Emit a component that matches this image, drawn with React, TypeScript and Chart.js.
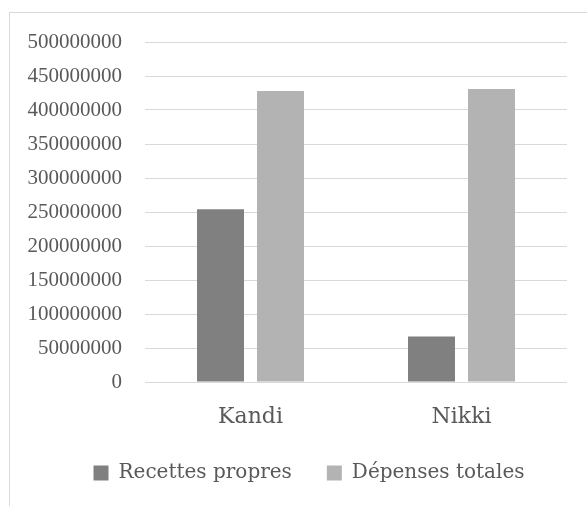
import React, { useEffect, useRef } from "react";
import { Chart, registerables } from "chart.js";

Chart.register(...registerables);

const categories = ["Kandi", "Nikki"];
const seriesNames = ["Recettes propres", "Dépenses totales"];
const recettesPropres = [254000000, 67000000];
const depensesTotales = [428000000, 431000000];
const yMin = 0;
const yMax = 500000000;
const yStep = 50000000;

const TEXT = "#595959";
const GRID = "#d9d9d9";

const legendShift = {
  id: "legendShift",
  afterLayout(chart: any) {
    if (chart.legend) {
      chart.legend.left = 51;
    }
  },
};

export default function App() {
  const ref = useRef<HTMLCanvasElement | null>(null);

  useEffect(() => {
    if (!ref.current) return;
    const chart = new Chart(ref.current, {
      type: "bar",
      data: {
        labels: categories,
        datasets: [
          {
            label: seriesNames[0],
            data: recettesPropres,
            backgroundColor: "#808080",
            borderWidth: 0,
            categoryPercentage: 0.5687,
            barPercentage: 0.783,
          },
          {
            label: seriesNames[1],
            data: depensesTotales,
            backgroundColor: "#b3b3b3",
            borderWidth: 0,
            categoryPercentage: 0.5687,
            barPercentage: 0.783,
          },
        ],
      },
      plugins: [legendShift],
      options: {
        responsive: false,
        animation: false,
        layout: { padding: { left: 0, right: 20, top: 42, bottom: 13 } },
        plugins: {
          tooltip: { enabled: false },
          legend: {
            position: "bottom",
            labels: {
              boxWidth: 15,
              boxHeight: 15,
              padding: 35,
              color: TEXT,
              font: { family: "DejaVu Serif", size: 20 },
            },
          },
        },
        scales: {
          x: {
            grid: { display: false, drawTicks: false },
            border: { display: false },
            ticks: {
              color: TEXT,
              padding: 22,
              font: { family: "DejaVu Serif", size: 22 },
            },
            afterFit: (s: any) => {
              s.height = 46;
            },
          },
          y: {
            min: yMin,
            max: yMax,
            grid: { color: GRID, lineWidth: 1, drawTicks: false },
            border: { display: false },
            ticks: {
              stepSize: yStep,
              color: TEXT,
              padding: 23,
              font: { family: "Liberation Serif", size: 21 },
              callback: (v: any) => String(v),
            },
            afterFit: (s: any) => {
              s.width = 145;
            },
          },
        },
      },
    });
    return () => chart.destroy();
  }, []);

  return (
    <div
      style={{
        position: "fixed",
        left: 0,
        top: 0,
        width: 587,
        height: 506,
        overflow: "hidden",
        background: "#fff",
      }}
    >
      <div
        style={{
          position: "absolute",
          left: 9,
          top: 12,
          width: 700,
          height: 700,
          border: `1px solid ${GRID}`,
        }}
      />
      <canvas
        ref={ref}
        width={587}
        height={506}
        style={{ position: "absolute", left: 0, top: 0, width: 587, height: 506 }}
      />
    </div>
  );
}
